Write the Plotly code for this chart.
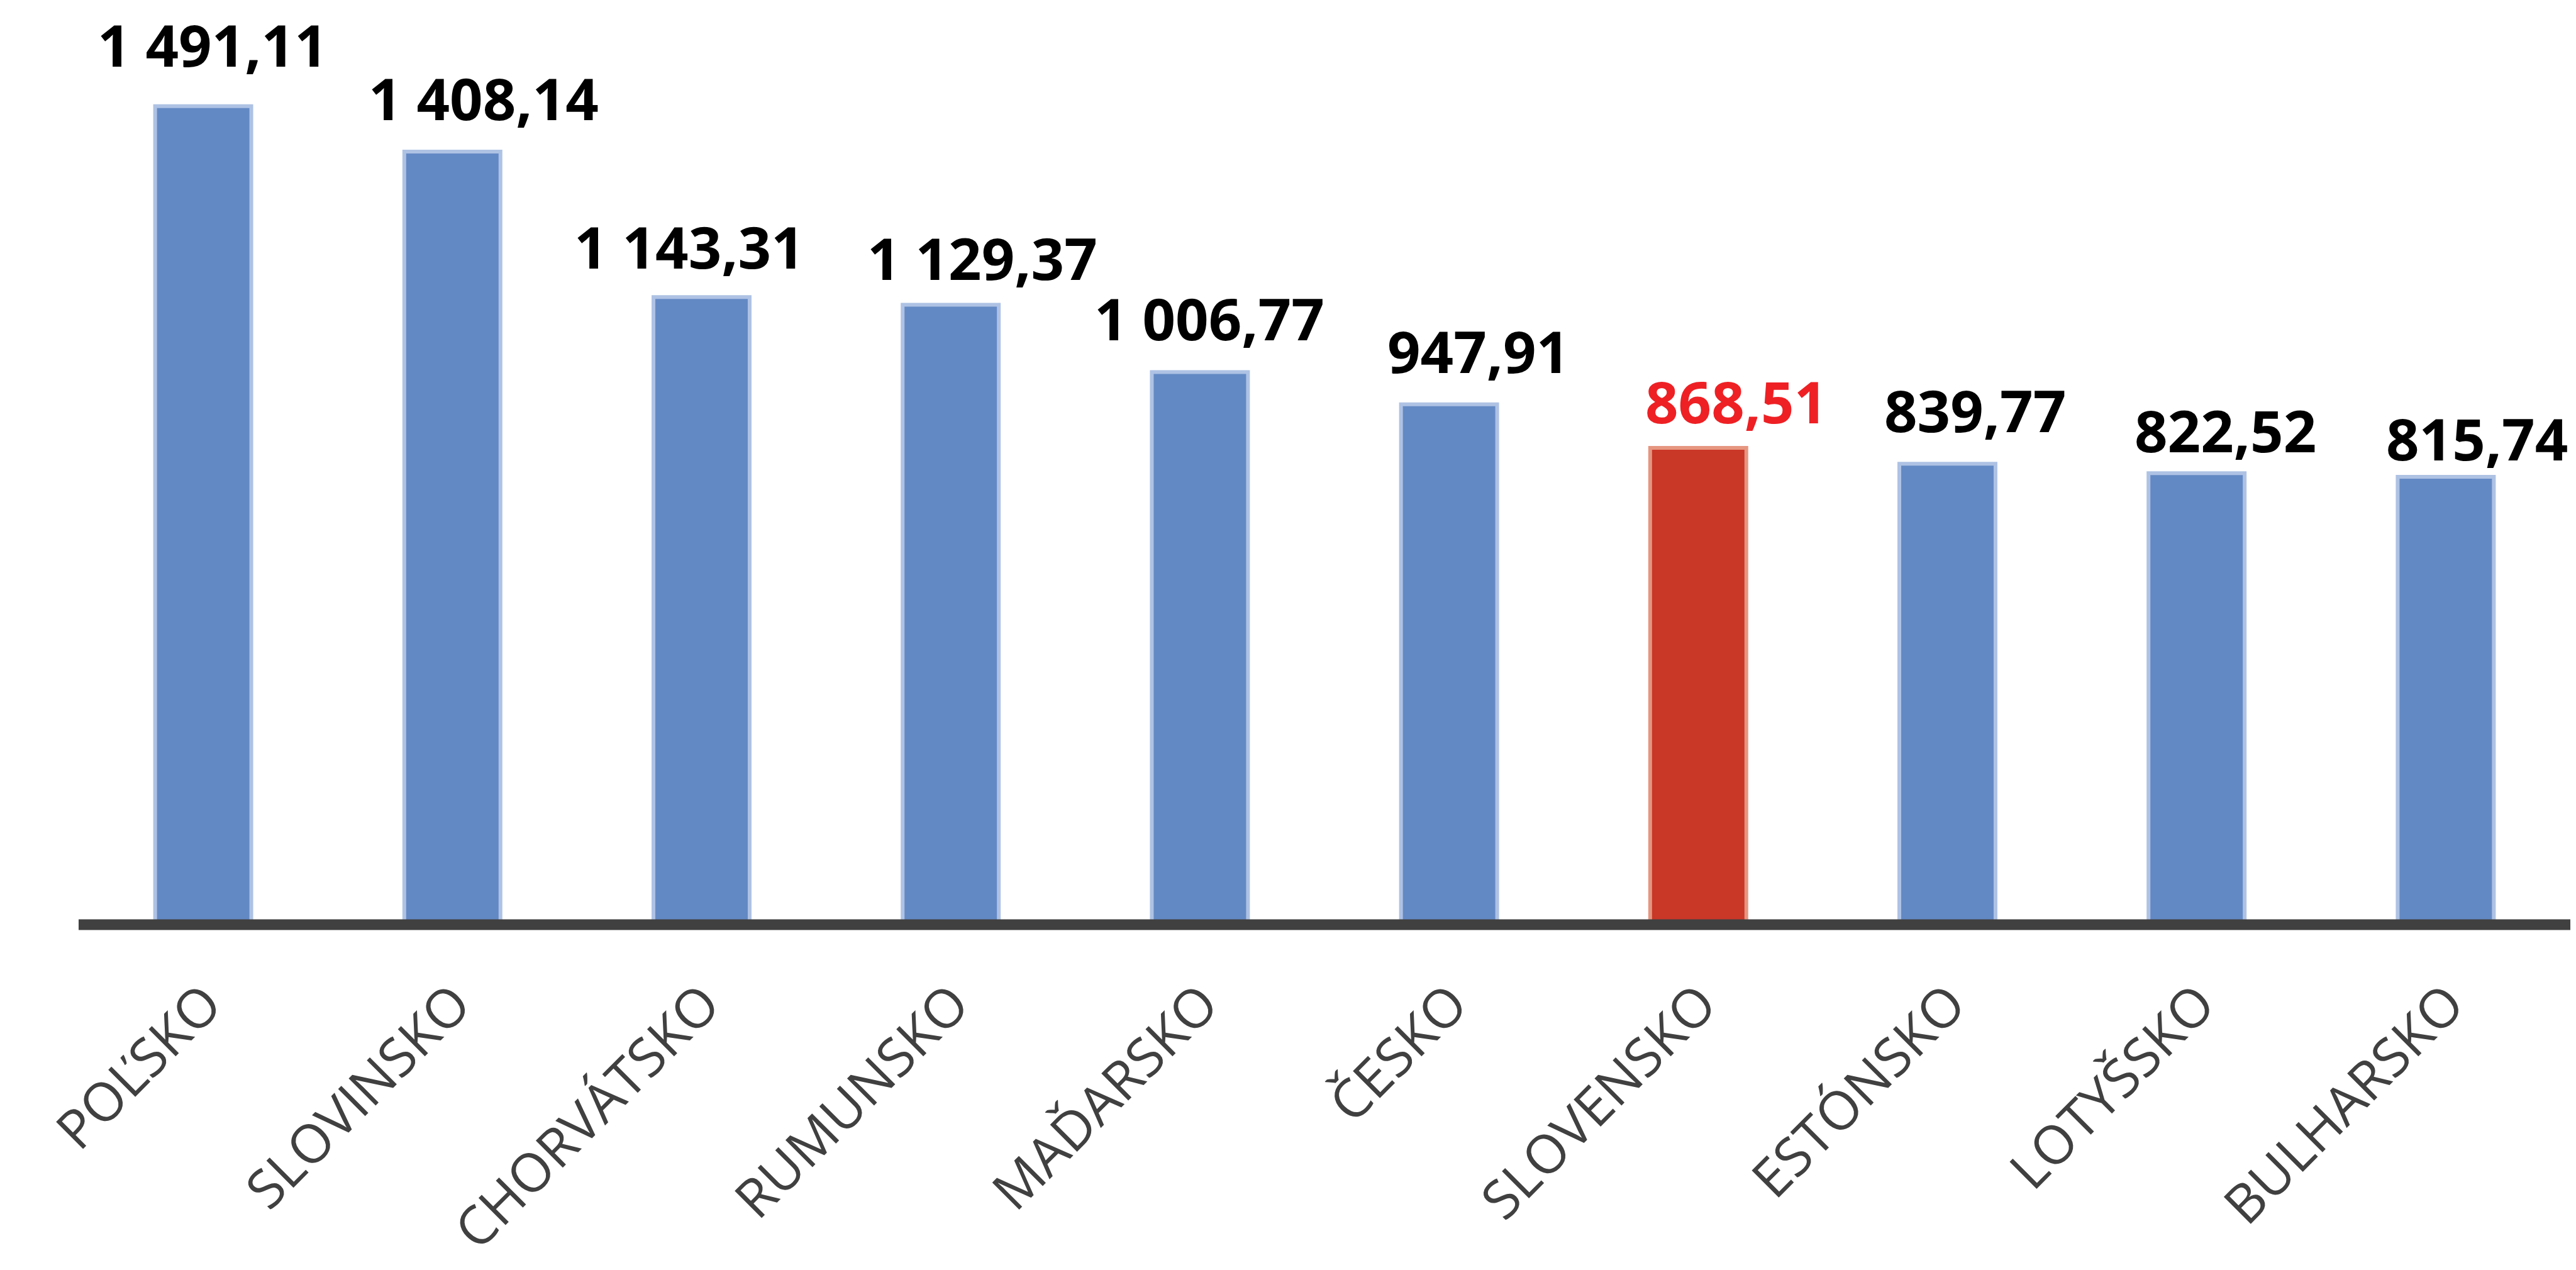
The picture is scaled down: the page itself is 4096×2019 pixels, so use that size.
import plotly.graph_objects as go

# ---- data ----
countries = ["POĽSKO", "SLOVINSKO", "CHORVÁTSKO", "RUMUNSKO", "MAĎARSKO",
             "ČESKO", "SLOVENSKO", "ESTÓNSKO", "LOTYŠSKO", "BULHARSKO"]
values = [1491.11, 1408.14, 1143.31, 1129.37, 1006.77,
          947.91, 868.51, 839.77, 822.52, 815.74]
highlight = "SLOVENSKO"

# ---- styling (label offsets in px, as placed in the original) ----
label_dx = [15, 50, -20, 50, 15, 46, 60, 44, 46, 50]
label_gap = [60, 47, 42, 36, 47, 47, 36, 47, 30, 23]

BLUE, BLUE_EDGE = "#6389C4", "#AEC2E4"
RED, RED_EDGE = "#C93727", "#E69680"
RED_TEXT = "#EE2024"
AXIS = "#404040"
FONT = "Open Sans"

W, H = 4096, 2019
M_L, M_R, M_T, M_B = 125, 9, 20, 549
PX_PER_UNIT = 0.8727
y_max = (H - M_T - M_B) / PX_PER_UNIT


def fmt(v):
    return f"{v:,.2f}".replace(",", " ").replace(".", ",")


fill = [RED if c == highlight else BLUE for c in countries]
edge = [RED_EDGE if c == highlight else BLUE_EDGE for c in countries]

fig = go.Figure(go.Bar(
    x=countries, y=values,
    width=0.386,
    marker=dict(color=fill, line=dict(color=edge, width=6)),
    hoverinfo="skip",
))

for i, (c, v) in enumerate(zip(countries, values)):
    fig.add_annotation(
        x=c, y=v, text=fmt(v), showarrow=False,
        xanchor="center", yanchor="bottom",
        xshift=label_dx[i], yshift=label_gap[i] - 26,
        font=dict(family=FONT, size=92, weight="bold",
                  color=RED_TEXT if c == highlight else "#000000"),
    )

# category axis line (paper refs so it is not clipped by the plot area)
fig.add_shape(type="line", xref="paper", x0=0, x1=1, yref="paper", y0=0, y1=0,
              line=dict(color=AXIS, width=17), layer="above")

fig.update_layout(
    width=W, height=H,
    margin=dict(l=M_L, r=M_R, t=M_T, b=M_B, autoexpand=False),
    paper_bgcolor="white", plot_bgcolor="white",
    showlegend=False,
    xaxis=dict(type="category", range=[-0.5, len(countries) - 0.5],
               showgrid=False, zeroline=False, showline=False, ticks="",
               tickangle=-45, ticklabelstandoff=58, ticklabelshift=4,
               tickfont=dict(family=FONT, size=85, color=AXIS)),
    yaxis=dict(range=[0, y_max], visible=False, showgrid=False, zeroline=False),
)

fig.write_html("out.html", config={"displayModeBar": False},
               post_script="document.body.style.margin='0';")
